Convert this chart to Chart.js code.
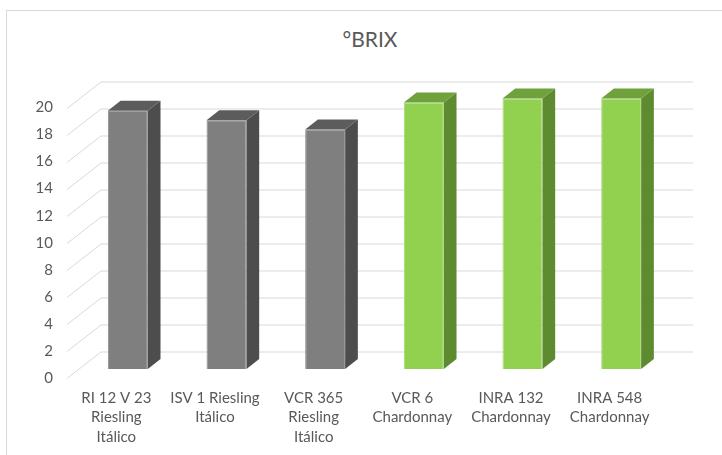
<!DOCTYPE html>
<html>
<head>
<meta charset="utf-8">
<script src="https://cdn.jsdelivr.net/npm/chart.js@4/dist/chart.umd.min.js"></script>
<style>
  html, body { margin: 0; padding: 0; background: #fff; overflow: hidden; }
  #frame { position: absolute; left: 6px; top: 10px; width: 800px; height: 600px; border-left: 1px solid #d9d9d9; border-top: 1px solid #d9d9d9; }
  #title { position: absolute; left: 270px; width: 200px; top: 26px; text-align: center; font: 21px Lato, sans-serif; color: #595959; }
  #wrap { position: absolute; left: 0; top: 0; width: 722px; height: 455px; }
</style>
</head>
<body>
<div id="frame"></div>
<div id="title">°BRIX</div>
<div id="wrap"><canvas id="brixChart"></canvas></div>
<script>
// --- Data ---
const varieties = [
  ['RI 12 V 23', 'Riesling', 'Itálico'],
  ['ISV 1 Riesling', 'Itálico'],
  ['VCR 365', 'Riesling', 'Itálico'],
  ['VCR 6', 'Chardonnay'],
  ['INRA 132', 'Chardonnay'],
  ['INRA 548', 'Chardonnay']
];
const brix = [19.1, 18.4, 17.7, 19.7, 20.0, 20.0];
const yTicks = [0, 2, 4, 6, 8, 10, 12, 14, 16, 18, 20];

// --- Colours (riesling = gray, chardonnay = green) ---
const frontColors = ['#7f7f7f', '#7f7f7f', '#7f7f7f', '#92d050', '#92d050', '#92d050'];
const edgeColors  = ['#8e8e8e', '#8e8e8e', '#8e8e8e', '#a6db74', '#a6db74', '#a6db74'];
const topColors   = ['#5c5c5c', '#5c5c5c', '#5c5c5c', '#6fa13c', '#6fa13c', '#6fa13c'];
const sideColors  = ['#4d4d4d', '#4d4d4d', '#4d4d4d', '#5e8a30', '#5e8a30', '#5e8a30'];

// fake 3D: back wall offset, bar shift into depth, bar depth
const WALL = { dx: 34, dy: -26.5 };
const SHIFT = { dx: 11.5, dy: -9 };
const DEPTH = { dx: 12.7, dy: -10 };
const GRID = '#d9d9d9';

const threeD = {
  id: 'threeD',
  beforeDatasetsDraw(chart) {
    const { ctx, chartArea, scales: { y } } = chart;
    ctx.save();
    ctx.strokeStyle = GRID;
    ctx.lineWidth = 1;
    yTicks.forEach(v => {
      const py = Math.round(y.getPixelForValue(v)) + 0.5;
      ctx.beginPath();
      ctx.moveTo(chartArea.left, py);
      ctx.lineTo(chartArea.left + WALL.dx, py + WALL.dy);
      ctx.lineTo(chartArea.right + WALL.dx, py + WALL.dy);
      ctx.stroke();
    });
    ctx.restore();
    ctx.save();
    ctx.translate(SHIFT.dx, SHIFT.dy);
  },
  afterDatasetsDraw(chart) {
    const { ctx } = chart;
    ctx.restore();
    chart.getDatasetMeta(0).data.forEach((bar, i) => {
      const x0 = bar.x - bar.width / 2 + SHIFT.dx;
      const x1 = bar.x + bar.width / 2 + SHIFT.dx;
      const top = bar.y + SHIFT.dy;
      const bottom = bar.base + SHIFT.dy;
      ctx.fillStyle = sideColors[i];
      ctx.beginPath();
      ctx.moveTo(x1, top);
      ctx.lineTo(x1 + DEPTH.dx, top + DEPTH.dy);
      ctx.lineTo(x1 + DEPTH.dx, bottom + DEPTH.dy);
      ctx.lineTo(x1, bottom);
      ctx.closePath();
      ctx.fill();
      ctx.fillStyle = topColors[i];
      ctx.beginPath();
      ctx.moveTo(x0, top);
      ctx.lineTo(x0 + DEPTH.dx, top + DEPTH.dy);
      ctx.lineTo(x1 + DEPTH.dx, top + DEPTH.dy);
      ctx.lineTo(x1, top);
      ctx.closePath();
      ctx.fill();
    });
  }
};

const labelFont = { family: 'Lato, sans-serif', size: 15, lineHeight: 1.3 };

new Chart(document.getElementById('brixChart'), {
  type: 'bar',
  data: {
    labels: varieties,
    datasets: [{
      data: brix,
      backgroundColor: frontColors,
      borderColor: edgeColors,
      borderWidth: 1,
      categoryPercentage: 1,
      barPercentage: 0.405,
      clip: false
    }]
  },
  options: {
    responsive: true,
    maintainAspectRatio: false,
    animation: false,
    layout: { padding: { top: 107.5, right: 63, left: 0, bottom: 0 } },
    plugins: { legend: { display: false }, title: { display: false }, tooltip: { enabled: false } },
    scales: {
      x: {
        grid: { display: false, drawTicks: false },
        border: { display: false },
        ticks: { color: '#595959', font: labelFont, padding: 10, maxRotation: 0, autoSkip: false },
        afterFit: s => { s.height = 77; }
      },
      y: {
        min: 0,
        max: 20,
        grid: { display: false, drawTicks: false },
        border: { display: false },
        afterBuildTicks: s => { s.ticks = yTicks.map(v => ({ value: v })); },
        ticks: { color: '#595959', font: { family: 'Lato, sans-serif', size: 15 }, padding: 14 },
        afterFit: s => { s.width = 67; }
      }
    }
  },
  plugins: [threeD]
});
</script>
</body>
</html>
